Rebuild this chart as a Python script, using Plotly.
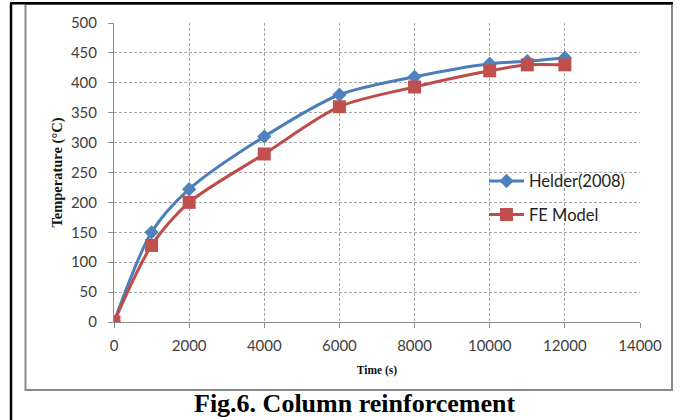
import plotly.graph_objects as go

time_s = [0, 1000, 2000, 4000, 6000, 8000, 10000, 11000, 12000]
helder = [0, 150, 222, 310, 380, 410, 432, 436, 442]
fe_model = [0, 128, 200, 281, 360, 393, 420, 430, 430]
x_ticks = [0, 2000, 4000, 6000, 8000, 10000, 12000, 14000]
y_ticks = [0, 50, 100, 150, 200, 250, 300, 350, 400, 450, 500]

W, H = 687, 420
L, R, T, B = 114, 640, 23, 322.5

def px(xp):
    return (xp - L) / (R - L)

def py(yp):
    return (B - yp) / (B - T)

fig = go.Figure()
fig.add_trace(go.Scatter(
    x=time_s, y=helder, name="Helder(2008)", mode="lines+markers",
    line=dict(color="#4A7EBB", width=3, shape="spline", smoothing=0.8),
    marker=dict(symbol="diamond", size=11, color="#4F81BD"),
    legendgroup="a"))
fig.add_trace(go.Scatter(
    x=time_s, y=fe_model, name="FE Model", mode="lines+markers",
    line=dict(color="#BE4B48", width=3, shape="spline", smoothing=0.8),
    marker=dict(symbol="square", size=13, color="#C0504D"),
    legendgroup="b"))

tickfont = dict(family="Lato, Open Sans, sans-serif", size=15, color="#404040")
fig.update_layout(
    width=W, height=H,
    margin=dict(l=L, r=W - R, t=T, b=H - B, autoexpand=False),
    paper_bgcolor="white", plot_bgcolor="white",
    showlegend=True,
    legend=dict(x=px(484), y=py(164), xanchor="left", yanchor="top",
                font=dict(family="Lato, Open Sans, sans-serif", size=16.5, color="#222"),
                bgcolor="rgba(0,0,0,0)", tracegroupgap=9, itemwidth=35),
    xaxis=dict(range=[0, 14000], tickvals=x_ticks, ticktext=[str(v) for v in x_ticks],
               tickfont=tickfont, showline=True, linecolor="#8c8c8c", linewidth=1,
               ticks="outside", ticklen=5, tickcolor="#8c8c8c", ticklabelstandoff=5,
               showgrid=True, gridcolor="#a6a6a6", griddash="3px,2px", gridwidth=1,
               zeroline=False, mirror=False,
               title=dict(text="<b>Time (s)</b>", font=dict(family="Liberation Serif", size=11.5, color="#111"), standoff=12)),
    yaxis=dict(range=[0, 500], tickvals=y_ticks, tickfont=tickfont,
               showline=True, linecolor="#8c8c8c", linewidth=1,
               ticks="outside", ticklen=5, tickcolor="#8c8c8c", ticklabelstandoff=8,
               showgrid=True, gridcolor="#a6a6a6", griddash="3px,2px", gridwidth=1,
               zeroline=False,
               title=dict(text="<b>Temperature (°C)</b>", font=dict(family="Liberation Serif", size=14.5, color="#111"), standoff=4)),
)

shapes = [
    # chart box
    dict(type="rect", xref="paper", yref="paper", x0=px(25.5), x1=px(672), y0=py(390.5), y1=py(4),
         line=dict(color="#8a8a8a", width=2), layer="below"),
    # outer black frame (left and top)
    dict(type="line", xref="paper", yref="paper", x0=px(11), x1=px(11), y0=py(3), y1=py(421),
         line=dict(color="black", width=2.5)),
    dict(type="line", xref="paper", yref="paper", x0=px(10), x1=px(673), y0=py(3.3), y1=py(3.3),
         line=dict(color="black", width=2.5)),
]
fig.update_layout(shapes=shapes)

fig.add_annotation(text="<b>Fig.6. Column reinforcement</b>", xref="paper", yref="paper",
                   x=px(354), y=py(404), xanchor="center", yanchor="middle", showarrow=False,
                   font=dict(family="Liberation Serif", size=26, color="black"))

fig.write_html("out.html", config={"displayModeBar": False},
               post_script="document.body.style.margin='0px';")
